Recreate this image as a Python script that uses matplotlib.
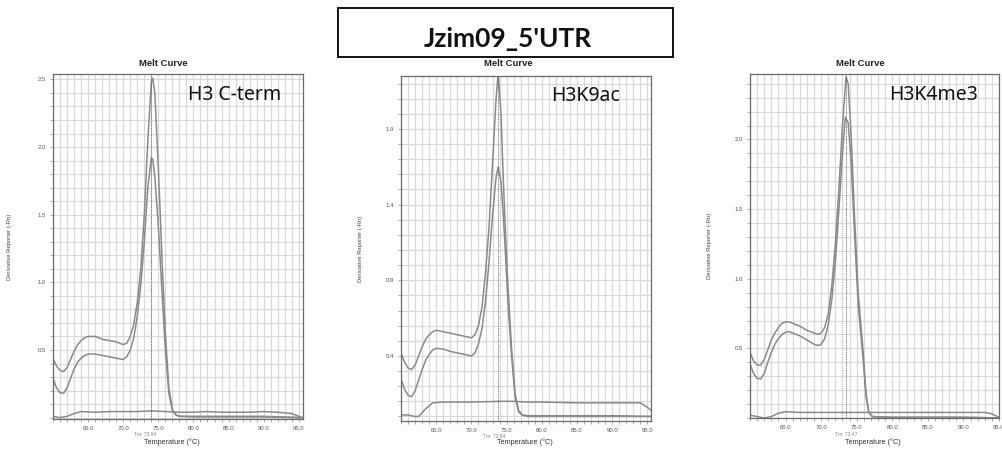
import matplotlib
matplotlib.use("Agg")
import matplotlib.pyplot as plt
from matplotlib.ticker import MultipleLocator, FixedLocator, FormatStrFormatter
from matplotlib.patches import Rectangle

# ---------------- data ----------------
main_title = "Jzim09_5'UTR"
panel_labels = ["H3 C-term", "H3K9ac", "H3K4me3"]
tm_values = [73.94, 73.84, 73.47]
x_ticks = [65.0, 70.0, 75.0, 80.0, 85.0, 90.0, 95.0]
y_ticks_p1 = [0.5, 1.0, 1.5, 2.0, 2.5]
y_ticks_p2 = [0.4, 0.9, 1.4, 1.9]
y_ticks_p3 = [0.5, 1.0, 1.5, 2.0]

# Panel 1 : H3 C-term
p1_temp_a = [60.0, 60.5, 61.0, 61.5, 62.0, 62.5, 63.0, 63.5, 64.0, 64.5, 65.0, 65.5, 66.0, 67.0,
             68.0, 69.0, 70.0, 70.5, 71.0, 71.5, 72.0, 72.5, 73.0, 73.5, 74.0, 74.2, 74.5, 75.0,
             75.5, 76.0, 76.5, 77.0, 77.5, 78.0, 80.0, 85.0, 90.0, 95.5]
p1_val_a = [0.44, 0.38, 0.35, 0.34, 0.37, 0.43, 0.49, 0.54, 0.57, 0.59, 0.60, 0.60, 0.60, 0.58,
            0.57, 0.56, 0.54, 0.55, 0.60, 0.69, 0.85, 1.10, 1.50, 2.05, 2.48, 2.51, 2.40, 1.85,
            1.20, 0.62, 0.22, 0.06, 0.02, 0.01, 0.01, 0.01, 0.01, 0.0]
p1_temp_b = [60.0, 60.5, 61.0, 61.5, 62.0, 62.5, 63.0, 63.5, 64.0, 64.5, 65.0, 66.0, 67.0, 68.0,
             69.0, 70.0, 70.5, 71.0, 71.5, 72.0, 72.5, 73.0, 73.5, 74.0, 74.2, 74.5, 75.0, 75.5,
             76.0, 76.5, 77.0, 77.5, 78.0, 80.0, 85.0, 90.0, 95.5]
p1_val_b = [0.29, 0.22, 0.185, 0.18, 0.22, 0.29, 0.36, 0.41, 0.44, 0.46, 0.47, 0.47, 0.46, 0.45,
            0.44, 0.43, 0.45, 0.50, 0.59, 0.75, 0.98, 1.30, 1.70, 1.92, 1.91, 1.78, 1.42, 0.95,
            0.50, 0.18, 0.05, 0.02, 0.01, 0.005, 0.005, 0.005, 0.0]
p1_temp_ntc = [60.0, 61.0, 62.0, 63.0, 64.0, 66.0, 68.0, 70.0, 72.0, 74.0, 76.0, 78.0, 80.0,
               82.0, 84.0, 86.0, 88.0, 90.0, 92.0, 94.0, 95.0, 95.5]
p1_val_ntc = [0.01, 0.0, 0.01, 0.03, 0.045, 0.04, 0.045, 0.045, 0.045, 0.05, 0.045, 0.04, 0.04,
              0.045, 0.04, 0.04, 0.04, 0.045, 0.04, 0.03, 0.01, 0.0]

# Panel 2 : H3K9ac
p2_temp_a = [60.0, 60.5, 61.0, 61.5, 62.0, 62.5, 63.0, 63.5, 64.0, 64.5, 65.0, 66.0, 67.0, 68.0,
             69.0, 70.0, 70.5, 71.0, 71.5, 72.0, 72.5, 73.1, 73.5, 73.8, 74.2, 74.5, 74.8, 75.2,
             75.7, 76.2, 76.7, 77.2, 78.0, 85.0, 90.0, 95.5]
p2_val_a = [0.42, 0.36, 0.32, 0.31, 0.34, 0.40, 0.46, 0.51, 0.54, 0.56, 0.57, 0.56, 0.55, 0.54,
            0.53, 0.52, 0.54, 0.60, 0.72, 0.95, 1.25, 1.76, 2.10, 2.27, 2.00, 1.60, 1.25, 0.85,
            0.45, 0.15, 0.04, 0.01, 0.0, 0.0, 0.0, 0.0]
p2_temp_b = [60.0, 60.5, 61.0, 61.5, 62.0, 62.5, 63.0, 63.5, 64.0, 64.5, 65.0, 66.0, 67.0, 68.0,
             69.0, 70.0, 70.5, 71.0, 71.5, 72.0, 72.5, 73.0, 73.5, 73.8, 74.2, 74.5, 74.8, 75.2,
             75.7, 76.2, 76.7, 77.2, 78.0, 85.0, 90.0, 95.5]
p2_val_b = [0.25, 0.18, 0.14, 0.13, 0.17, 0.24, 0.31, 0.37, 0.41, 0.44, 0.45, 0.445, 0.43, 0.42,
            0.41, 0.40, 0.42, 0.48, 0.58, 0.76, 1.02, 1.33, 1.58, 1.65, 1.55, 1.35, 1.10, 0.75,
            0.40, 0.13, 0.03, 0.01, 0.005, 0.005, 0.005, 0.0]
p2_temp_ntc = [60.0, 61.0, 62.0, 62.5, 63.5, 64.5, 66.0, 70.0, 74.0, 76.0, 78.0, 80.0, 85.0,
               90.0, 94.0, 95.0, 95.5]
p2_val_ntc = [0.01, 0.01, 0.0, 0.0, 0.05, 0.09, 0.095, 0.095, 0.10, 0.10, 0.095, 0.095, 0.09,
              0.09, 0.09, 0.06, 0.04]

# Panel 3 : H3K4me3
p3_temp_a = [60.0, 60.5, 61.0, 61.5, 62.0, 62.5, 63.0, 63.5, 64.0, 64.5, 65.0, 65.5, 66.0, 67.0,
             68.0, 69.0, 69.6, 70.0, 70.5, 71.0, 71.5, 72.0, 72.5, 73.0, 73.5, 73.8, 74.2, 74.7,
             75.2, 75.9, 76.3, 76.7, 77.2, 80.0, 85.0, 90.0, 95.5]
p3_val_a = [0.47, 0.41, 0.38, 0.38, 0.42, 0.49, 0.56, 0.61, 0.65, 0.68, 0.69, 0.69, 0.68, 0.66,
            0.63, 0.61, 0.60, 0.61, 0.65, 0.75, 0.95, 1.25, 1.65, 2.10, 2.45, 2.40, 2.05, 1.44,
            0.90, 0.48, 0.18, 0.04, 0.01, 0.005, 0.005, 0.005, 0.0]
p3_temp_b = [60.0, 60.5, 61.0, 61.5, 62.0, 62.5, 63.0, 63.5, 64.0, 64.5, 65.0, 65.5, 66.0, 67.0,
             68.0, 69.0, 69.6, 70.0, 70.5, 71.0, 71.5, 72.0, 72.5, 73.0, 73.4, 73.8, 74.2, 74.7,
             75.2, 75.9, 76.3, 76.7, 77.2, 80.0, 85.0, 90.0, 95.5]
p3_val_b = [0.39, 0.32, 0.285, 0.28, 0.32, 0.40, 0.47, 0.53, 0.57, 0.60, 0.615, 0.62, 0.61, 0.59,
            0.56, 0.53, 0.52, 0.53, 0.57, 0.67, 0.85, 1.12, 1.50, 1.90, 2.16, 2.12, 1.85, 1.32,
            0.82, 0.42, 0.16, 0.04, 0.01, 0.005, 0.005, 0.005, 0.0]
p3_temp_ntc = [60.0, 61.0, 62.0, 63.0, 64.0, 65.0, 67.0, 70.0, 74.0, 77.0, 80.0, 85.0, 90.0,
               93.0, 94.0, 95.0]
p3_val_ntc = [0.02, 0.01, 0.0, 0.01, 0.035, 0.045, 0.04, 0.04, 0.04, 0.04, 0.04, 0.04, 0.04,
              0.04, 0.03, 0.005]

# ---------------- layout ----------------
W, H = 1003, 450
fig = plt.figure(figsize=(W / 100, H / 100), dpi=100)
fig.patch.set_facecolor("white")

def fx(px):
    return px / W

def fy(py):
    return 1 - py / H

panels = [
    dict(box=(53, 74, 303, 419), xlim=(60.0, 95.6), ylim=(-0.01, 2.54), yticks=y_ticks_p1,
         series=[(p1_temp_a, p1_val_a), (p1_temp_b, p1_val_b), (p1_temp_ntc, p1_val_ntc)],
         label=panel_labels[0], label_px=(188, 100), tm=tm_values[0],
         ylab_x=12, xlab_x=172, tm_px=(145, 435), title_x=163, title_y=63),
    dict(box=(401, 76, 651, 421), xlim=(60.0, 95.5), ylim=(-0.03, 2.25), yticks=y_ticks_p2,
         series=[(p2_temp_a, p2_val_a), (p2_temp_b, p2_val_b), (p2_temp_ntc, p2_val_ntc)],
         label=panel_labels[1], label_px=(551, 101), tm=tm_values[1],
         ylab_x=363, xlab_x=525, tm_px=(494, 436), title_x=508, title_y=64),
    dict(box=(750, 74, 999, 418), xlim=(60.0, 95.0), ylim=(0.0, 2.47), yticks=y_ticks_p3,
         series=[(p3_temp_a, p3_val_a), (p3_temp_b, p3_val_b), (p3_temp_ntc, p3_val_ntc)],
         label=panel_labels[2], label_px=(889, 100), tm=tm_values[2],
         ylab_x=712, xlab_x=873, tm_px=(846, 434), title_x=860, title_y=63),
]

grid_col = "#d8d8d8"
line_col = "#8a8a8a"
small_font = "Liberation Sans"

for p in panels:
    l, t, r, b = p["box"]
    ax = fig.add_axes([fx(l), fy(b), (r - l) / W, (b - t) / H])
    ax.set_xlim(*p["xlim"])
    ax.set_ylim(*p["ylim"])
    ax.xaxis.set_major_locator(FixedLocator(x_ticks))
    ax.xaxis.set_minor_locator(MultipleLocator(1.0))
    ax.yaxis.set_major_locator(FixedLocator(p["yticks"]))
    ax.yaxis.set_minor_locator(MultipleLocator(0.1))
    ax.xaxis.set_major_formatter(FormatStrFormatter("%.1f"))
    ax.yaxis.set_major_formatter(FormatStrFormatter("%.1f"))
    ax.grid(True, which="both", color=grid_col, linewidth=0.9)
    ax.set_axisbelow(True)
    ax.tick_params(which="both", labelsize=4.3, labelcolor="#555555", color="#888888",
                   length=2, width=0.5, pad=3)
    for lab in ax.get_xticklabels() + ax.get_yticklabels():
        lab.set_fontfamily(small_font)
    for s in ax.spines.values():
        s.set_color("#6a6a6a")
        s.set_linewidth(0.9)

    for temps, vals in p["series"]:
        ax.plot(temps, vals, color=line_col, linewidth=1.1, solid_joinstyle="round")
    ax.axvline(p["tm"], color="#666666", linewidth=0.6, linestyle=(0, (1.5, 1.2)))

    ax.set_ylabel("Derivative Reporter (-Rn)", fontsize=4.2, family=small_font, color="#444444")
    ax.yaxis.set_label_coords((p["ylab_x"] - l) / (r - l), 0.5)
    ax.set_xlabel("Temperature (\u00b0C)", fontsize=5.2, family=small_font, color="#333333")
    ax.xaxis.set_label_coords((p["xlab_x"] - l) / (r - l), (b - 442) / (b - t))
    ax.xaxis.label.set_verticalalignment("center")

    tx, ty = p["tm_px"]
    fig.text(fx(tx), fy(ty), "Tm: %.2f" % p["tm"], fontsize=3.6, family=small_font,
             color="#888888", ha="center", va="center")
    fig.text(fx(p["title_x"]), fy(p["title_y"]), "Melt Curve", fontsize=6.8, family=small_font,
             weight="bold", color="#222222", ha="center", va="center")
    lx, ly = p["label_px"]
    fig.text(fx(lx), fy(ly), p["label"], fontsize=14, family="Noto Sans", color="#111111",
             ha="left", va="baseline")

# main title box
fig.patches.append(Rectangle((fx(338), fy(57)), (673 - 338) / W, (57 - 8) / H,
                             transform=fig.transFigure, fill=False, edgecolor="#111111",
                             linewidth=1.4))
fig.text(fx(508), fy(47), main_title, fontsize=19, family="Lato", weight="bold",
         color="#111111", ha="center", va="baseline")

fig.savefig("out.png", dpi=100, facecolor="white")
